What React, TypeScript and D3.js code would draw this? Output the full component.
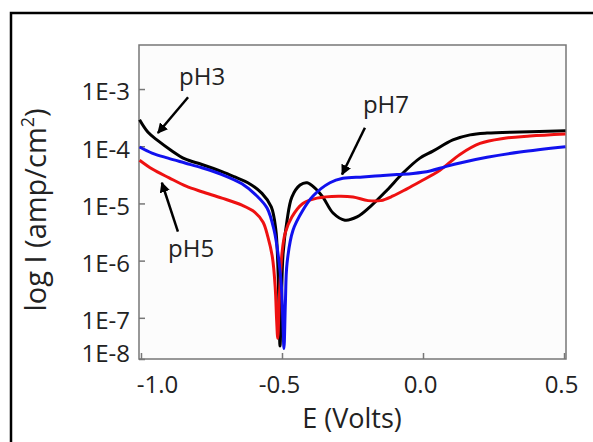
import React, { useRef, useEffect } from "react";
import * as d3 from "d3";

// potentiodynamic polarization curves, [E (V), I (amp/cm2)]
const pH3 = [
  [-1.005, 2.9e-4], [-0.975, 1.75e-4], [-0.94, 1.25e-4], [-0.895, 8.6e-5], [-0.844, 6.0e-5],
  [-0.784, 4.8e-5], [-0.713, 3.6e-5], [-0.667, 2.9e-5], [-0.621, 2.3e-5], [-0.571, 1.5e-5],
  [-0.538, 8.7e-6], [-0.522, 3.5e-6], [-0.515, 9.1e-7], [-0.511, 1.8e-7], [-0.507, 3.2e-8],
  [-0.502, 2.0e-7], [-0.496, 1.35e-6], [-0.482, 5.1e-6], [-0.465, 1.29e-5], [-0.436, 2.1e-5],
  [-0.411, 2.3e-5], [-0.383, 1.86e-5], [-0.355, 1.29e-5], [-0.319, 6.8e-6], [-0.277, 5.1e-6],
  [-0.234, 5.8e-6], [-0.188, 8.7e-6], [-0.128, 1.7e-5], [-0.071, 3.4e-5], [-0.011, 6.2e-5],
  [0.035, 8.2e-5], [0.106, 1.29e-4], [0.167, 1.58e-4], [0.227, 1.7e-4], [0.344, 1.78e-4],
  [0.505, 1.86e-4],
];

const pH5 = [
  [-1.005, 5.7e-5], [-0.96, 4.0e-5], [-0.9, 2.8e-5], [-0.84, 2.0e-5], [-0.784, 1.6e-5],
  [-0.713, 1.24e-5], [-0.642, 9.3e-6], [-0.596, 7.0e-6], [-0.567, 4.7e-6], [-0.55, 2.6e-6],
  [-0.534, 1.15e-6], [-0.524, 3.4e-7], [-0.519, 9.1e-8], [-0.515, 4.4e-8],
  [-0.509, 2.5e-7], [-0.5, 1.35e-6], [-0.489, 3.0e-6], [-0.465, 5.8e-6], [-0.426, 1.0e-5],
  [-0.376, 1.24e-5], [-0.3, 1.34e-5], [-0.248, 1.3e-5], [-0.195, 1.12e-5], [-0.15, 1.12e-5],
  [-0.106, 1.35e-5], [-0.057, 1.8e-5], [-0.011, 2.4e-5], [0.06, 3.8e-5], [0.131, 7.2e-5],
  [0.202, 1.12e-4], [0.284, 1.37e-4], [0.379, 1.51e-4], [0.505, 1.64e-4],
];

const pH7 = [
  [-1.005, 9.7e-5], [-0.961, 7.6e-5], [-0.904, 6.2e-5], [-0.844, 5.1e-5], [-0.784, 4.2e-5],
  [-0.713, 3.2e-5], [-0.642, 2.2e-5], [-0.589, 1.35e-5], [-0.553, 8.3e-6], [-0.528, 3.4e-6],
  [-0.512, 1.1e-6], [-0.502, 3.5e-7], [-0.497, 9.1e-8], [-0.493, 2.9e-8],
  [-0.488, 1.8e-7], [-0.482, 9.1e-7], [-0.461, 3.4e-6], [-0.426, 7.6e-6], [-0.39, 1.35e-5],
  [-0.33, 2.3e-5], [-0.284, 2.75e-5], [-0.213, 2.9e-5], [-0.152, 3.05e-5], [-0.092, 3.2e-5],
  [-0.035, 3.35e-5], [0.025, 3.7e-5], [0.08, 4.4e-5], [0.131, 5.1e-5], [0.227, 6.4e-5],
  [0.344, 7.9e-5], [0.505, 9.8e-5],
];

const seriesColors = ["#000000", "#ee1111", "#1111ee"];

const xTickValues = [-1.0, -0.5, 0.0, 0.5];
const xTickLabels = ["-1.0", "-0.5", "0.0", "0.5"];
const yTickValues = [1e-3, 1e-4, 1e-5, 1e-6, 1e-7];
const yTickLabels = ["1E-3", "1E-4", "1E-5", "1E-6", "1E-7", "1E-8"];

// label position (E, I), arrow tail and head (E, I)
const annotations = [
  { text: "pH3", at: [-0.865, 1.17e-3], from: [-0.833, 7.2e-4], to: [-0.94, 1.7e-4] },
  { text: "pH5", at: [-0.904, 1.15e-6], from: [-0.869, 3.2e-6], to: [-0.926, 2.3e-5] },
  { text: "pH7", at: [-0.213, 3.8e-4], from: [-0.206, 2.1e-4], to: [-0.287, 3.2e-5] },
];

const FONT = "'Open Sans', 'Noto Sans', sans-serif";

function Chart() {
  const svgRef = useRef(null);

  useEffect(() => {
    const svg = d3.select(svgRef.current);
    svg.selectAll("*").remove();

    const left = 139, right = 566, top = 45, bottom = 359;

    const x = d3.scaleLinear().domain([-1.007, 0.507]).range([left, right]);
    const yMin = Math.pow(10, -7.72);
    const y = d3.scaleLog().domain([yMin, Math.pow(10, -2.23)]).range([bottom, top]);

    // outer border
    svg.append("rect")
      .attr("x", 11).attr("y", 13).attr("width", 620).attr("height", 460)
      .attr("fill", "none").attr("stroke", "#000").attr("stroke-width", 2.5);

    // plot frame
    svg.append("rect")
      .attr("x", left).attr("y", top)
      .attr("width", right - left).attr("height", bottom - top)
      .attr("fill", "#fcfcfc").attr("stroke", "#777").attr("stroke-width", 1.5);

    // x axis
    const gx = svg.append("g")
      .attr("transform", `translate(0,${bottom})`)
      .call(d3.axisBottom(x)
        .tickValues(xTickValues)
        .tickFormat((d, i) => xTickLabels[i])
        .tickSizeInner(-6).tickSizeOuter(0).tickPadding(17));
    gx.select(".domain").remove();
    gx.selectAll("line").attr("stroke", "#777").attr("stroke-width", 1.5);
    gx.selectAll("text")
      .attr("font-family", FONT).attr("font-size", 24).attr("fill", "#222")
      .attr("dx", (d, i) => (i === 0 ? 16 : -3));

    // y axis
    const gy = svg.append("g")
      .attr("transform", `translate(${left},0)`)
      .call(d3.axisLeft(y)
        .tickValues([...yTickValues, yMin])
        .tickFormat((d, i) => yTickLabels[i])
        .tickSizeInner(-6).tickSizeOuter(0).tickPadding(9));
    gy.select(".domain").remove();
    gy.selectAll("line").attr("stroke", "#777").attr("stroke-width", 1.5);
    gy.selectAll("text")
      .attr("font-family", FONT).attr("font-size", 24).attr("fill", "#222")
      .attr("dy", (d, i) => (i === yTickLabels.length - 1 ? "0.1em" : "0.45em"));

    // curves
    const line = d3.line()
      .x(d => x(d[0]))
      .y(d => y(d[1]))
      .curve(d3.curveCatmullRom.alpha(0.5));

    [pH3, pH5, pH7].forEach((s, i) => {
      svg.append("path")
        .attr("d", line(s))
        .attr("fill", "none")
        .attr("stroke", seriesColors[i])
        .attr("stroke-width", 3)
        .attr("stroke-linejoin", "round");
    });

    // annotations with arrows
    svg.append("defs").append("marker")
      .attr("id", "arrow")
      .attr("viewBox", "0 0 10 10")
      .attr("refX", 9).attr("refY", 5)
      .attr("markerWidth", 4.2).attr("markerHeight", 4.2)
      .attr("markerUnits", "strokeWidth")
      .attr("orient", "auto")
      .append("path")
      .attr("d", "M0,0 L10,5 L0,10 z")
      .attr("fill", "#000");

    annotations.forEach(a => {
      svg.append("text")
        .attr("x", x(a.at[0])).attr("y", y(a.at[1]))
        .attr("font-family", FONT).attr("font-size", 24).attr("fill", "#222")
        .text(a.text);
      svg.append("line")
        .attr("x1", x(a.from[0])).attr("y1", y(a.from[1]))
        .attr("x2", x(a.to[0])).attr("y2", y(a.to[1]))
        .attr("stroke", "#000").attr("stroke-width", 2.5)
        .attr("marker-end", "url(#arrow)");
    });

    // axis titles
    svg.append("text")
      .attr("x", (left + right) / 2 - 0.5).attr("y", 428)
      .attr("text-anchor", "middle")
      .attr("font-family", FONT).attr("font-size", 27).attr("fill", "#222")
      .text("E (Volts)");

    const yTitle = svg.append("text")
      .attr("transform", "translate(46,210) rotate(-90)")
      .attr("text-anchor", "middle")
      .attr("font-family", FONT).attr("font-size", 29).attr("fill", "#222");
    yTitle.append("tspan").text("log I (amp/cm");
    yTitle.append("tspan").attr("font-size", 18).attr("dy", -12).text("2");
    yTitle.append("tspan").attr("dy", 12).text(")");
  }, []);

  return <svg ref={svgRef} width={593} height={442} style={{ display: "block" }} />;
}

export default function App() {
  return (
    <div style={{ position: "absolute", left: 0, top: 0, background: "#fff" }}>
      <Chart />
    </div>
  );
}
